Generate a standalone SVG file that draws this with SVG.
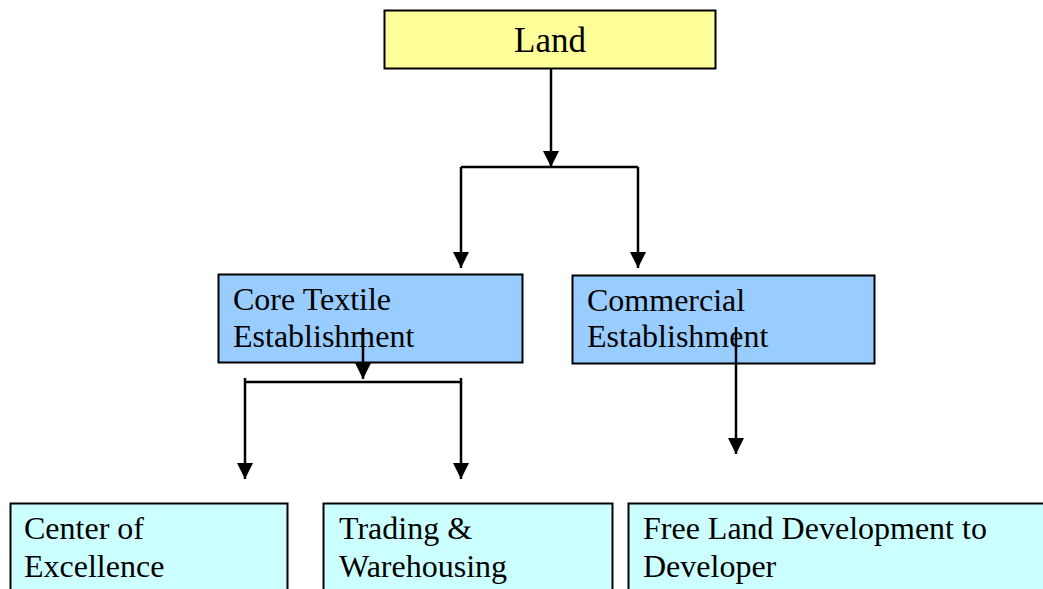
<svg xmlns="http://www.w3.org/2000/svg" width="1043" height="589" viewBox="0 0 1043 589">
<style>
.box{stroke:#000;stroke-width:2}
.t{font-family:"Liberation Serif","Times New Roman",serif;font-size:32px;fill:#000}
.c{fill:none;stroke:#000;stroke-width:2.5}
</style>
<defs>
<marker id="ah" markerWidth="16" markerHeight="16" refX="16" refY="8" orient="auto" markerUnits="userSpaceOnUse">
<path d="M0,0 L16,8 L0,16 Z" fill="#000"/>
</marker>
</defs>
<rect width="1043" height="589" fill="#fff"/>
<g id="land"><rect class="box" x="384.5" y="10.5" width="331" height="58" fill="#ffff99"/><text class="t" x="550" y="52" text-anchor="middle" style="font-size:35px">Land</text></g>
<g id="core"><rect class="box" x="218.5" y="274.5" width="304" height="88" fill="#99ccff"/><text class="t" x="233" y="310">Core Textile</text><text class="t" x="233" y="347">Establishment</text></g>
<g id="commercial"><rect class="box" x="572.5" y="275.5" width="302" height="88" fill="#99ccff"/><text class="t" x="587" y="311">Commercial</text><text class="t" x="587" y="347">Establishment</text></g>
<g id="coe"><rect class="box" x="10.5" y="503.5" width="277" height="100" fill="#ccffff"/><text class="t" x="24" y="539">Center of</text><text class="t" x="24" y="577">Excellence</text></g>
<g id="trading"><rect class="box" x="323.5" y="503.5" width="289" height="100" fill="#ccffff"/><text class="t" x="339" y="539">Trading &amp;</text><text class="t" x="339" y="577">Warehousing</text></g>
<g id="freeland"><rect class="box" x="628.5" y="503.5" width="430" height="100" fill="#ccffff"/><text class="t" x="643" y="539">Free Land Development to</text><text class="t" x="643" y="577">Developer</text></g>
<g id="connectors">
<line class="c" x1="551" y1="69" x2="551" y2="167" marker-end="url(#ah)"/>
<polyline class="c" points="461,167 638,167"/>
<line class="c" x1="461" y1="167" x2="461" y2="268" marker-end="url(#ah)"/>
<line class="c" x1="638" y1="167" x2="638" y2="268" marker-end="url(#ah)"/>
<line class="c" x1="363" y1="328" x2="363" y2="379" marker-end="url(#ah)"/>
<polyline class="c" points="245,382 461,382"/>
<line class="c" x1="245" y1="378" x2="245" y2="479" marker-end="url(#ah)"/>
<line class="c" x1="461" y1="378" x2="461" y2="479" marker-end="url(#ah)"/>
<line class="c" x1="736" y1="327" x2="736" y2="454" marker-end="url(#ah)"/>
</g>
</svg>
